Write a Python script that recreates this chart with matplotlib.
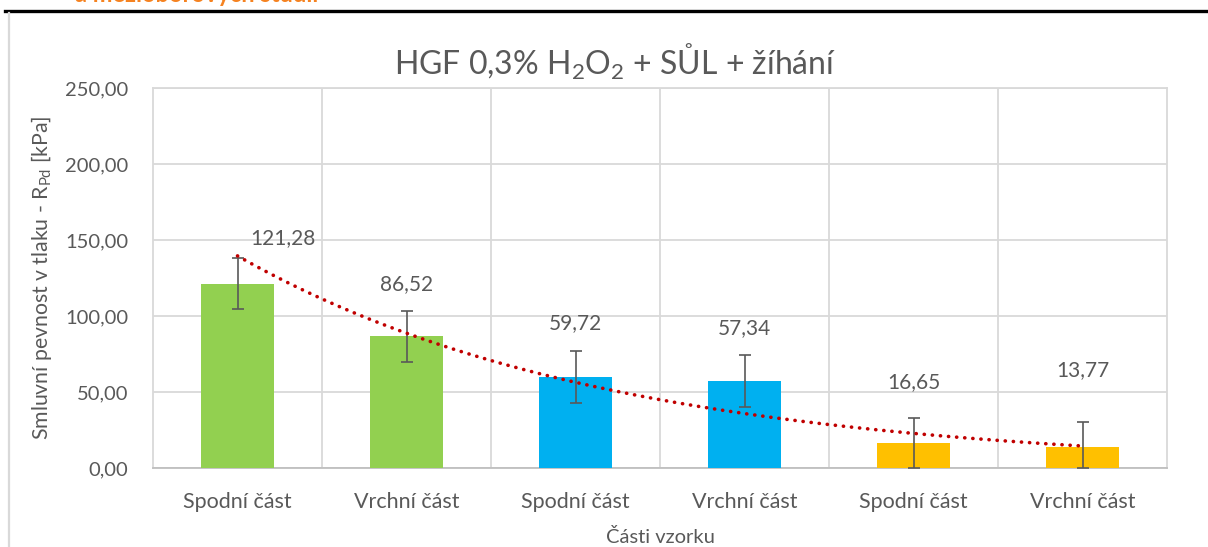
import numpy as np
import matplotlib.pyplot as plt
from matplotlib.ticker import FuncFormatter, MultipleLocator
from matplotlib.lines import Line2D

plt.rcParams['font.family'] = ['Lato', 'DejaVu Sans']
plt.rcParams['mathtext.fontset'] = 'custom'
plt.rcParams['mathtext.rm'] = 'Lato'
plt.rcParams['mathtext.default'] = 'regular'

## data
categories = ['Spodní část', 'Vrchní část', 'Spodní část',
              'Vrchní část', 'Spodní část', 'Vrchní část']
values = [121.28, 86.52, 59.72, 57.34, 16.65, 13.77]
errors = [17.0, 16.5, 17.0, 17.0, 16.5, 16.5]
colors = ['#92D050', '#92D050', '#00B0F0', '#00B0F0', '#FFC000', '#FFC000']

text_col = '#595959'
grid_col = '#D9D9D9'

fig = plt.figure(figsize=(12.08, 5.47), dpi=100)
ax = fig.add_axes([153 / 1208, 1 - 468 / 547, 1014 / 1208, 380 / 547])

x = np.arange(1, len(values) + 1)
ax.bar(x, values, width=0.43, color=colors, zorder=3)

# lower error limit stops at zero
lower = np.minimum(errors, values)
ax.errorbar(x, values, yerr=[lower, errors], fmt='none', ecolor=text_col,
            elinewidth=1.2, capsize=4.5, capthick=1.2, zorder=4)

# exponential trend line
b, ln_a = np.polyfit(x, np.log(values), 1)
xt = np.linspace(1, 6, 200)
ax.plot(xt, np.exp(ln_a) * np.exp(b * xt), color='#C00000', lw=2.6,
        linestyle=(0, (0.05, 2.2)), dash_capstyle='round', zorder=5)

# value labels
label_dx = [0.27, 0, 0, 0, 0, 0]
label_dy = [13.3, 18.0, 18.3, 17.7, 23.4, 34.2]
for xi, v, e, dx, dy in zip(x, values, errors, label_dx, label_dy):
    ax.text(xi + dx, v + e + dy, f'{v:.2f}'.replace('.', ','),
            ha='center', va='center', fontsize=15, color=text_col, zorder=6)

ax.set_xlim(0.5, 6.5)
ax.set_ylim(0, 250)
ax.yaxis.set_major_locator(MultipleLocator(50))
ax.yaxis.set_major_formatter(FuncFormatter(lambda v, p: f'{v:.2f}'.replace('.', ',')))
ax.set_xticks(x)
ax.set_xticklabels(categories)
ax.set_xticks(np.arange(1.5, 6, 1), minor=True)
ax.tick_params(axis='both', which='both', length=0, colors=text_col)
ax.tick_params(axis='y', labelsize=14.5, pad=18)
ax.tick_params(axis='x', labelsize=15.5, pad=17)

ax.grid(axis='y', which='major', color=grid_col, lw=1.3, zorder=0)
ax.grid(axis='x', which='minor', color=grid_col, lw=1.3, zorder=0)
for s in ax.spines.values():
    s.set_color(grid_col)
    s.set_linewidth(1.3)
ax.spines['bottom'].set_color('#BFBFBF')

fig.text(615 / 1208, 1 - 62 / 547, r'HGF 0,3% H$_2$O$_2$ + SŮL + žíhání',
         fontsize=23, color=text_col, ha='center', va='center')
ax.set_ylabel(r'Smluvní pevnost v tlaku - R$_{Pd}$ [kPa]', fontsize=15.3,
              color=text_col, labelpad=8)
ax.set_xlabel('Části vzorku', fontsize=14.5, color=text_col, labelpad=12)

# page header rule and frame edge
fig.add_artist(Line2D([5 / 1208, 1], [1 - 11 / 547] * 2, color='black', lw=2.4))
fig.add_artist(Line2D([8.5 / 1208] * 2, [0, 1 - 13 / 547], color=grid_col, lw=1.6))
fig.text(75 / 1208, 1 - 1.5 / 547, 'a mezioborových studií', fontsize=17,
         fontweight='bold', color='#F58220', va='baseline', ha='left')

fig.savefig('out.png', dpi=100)
